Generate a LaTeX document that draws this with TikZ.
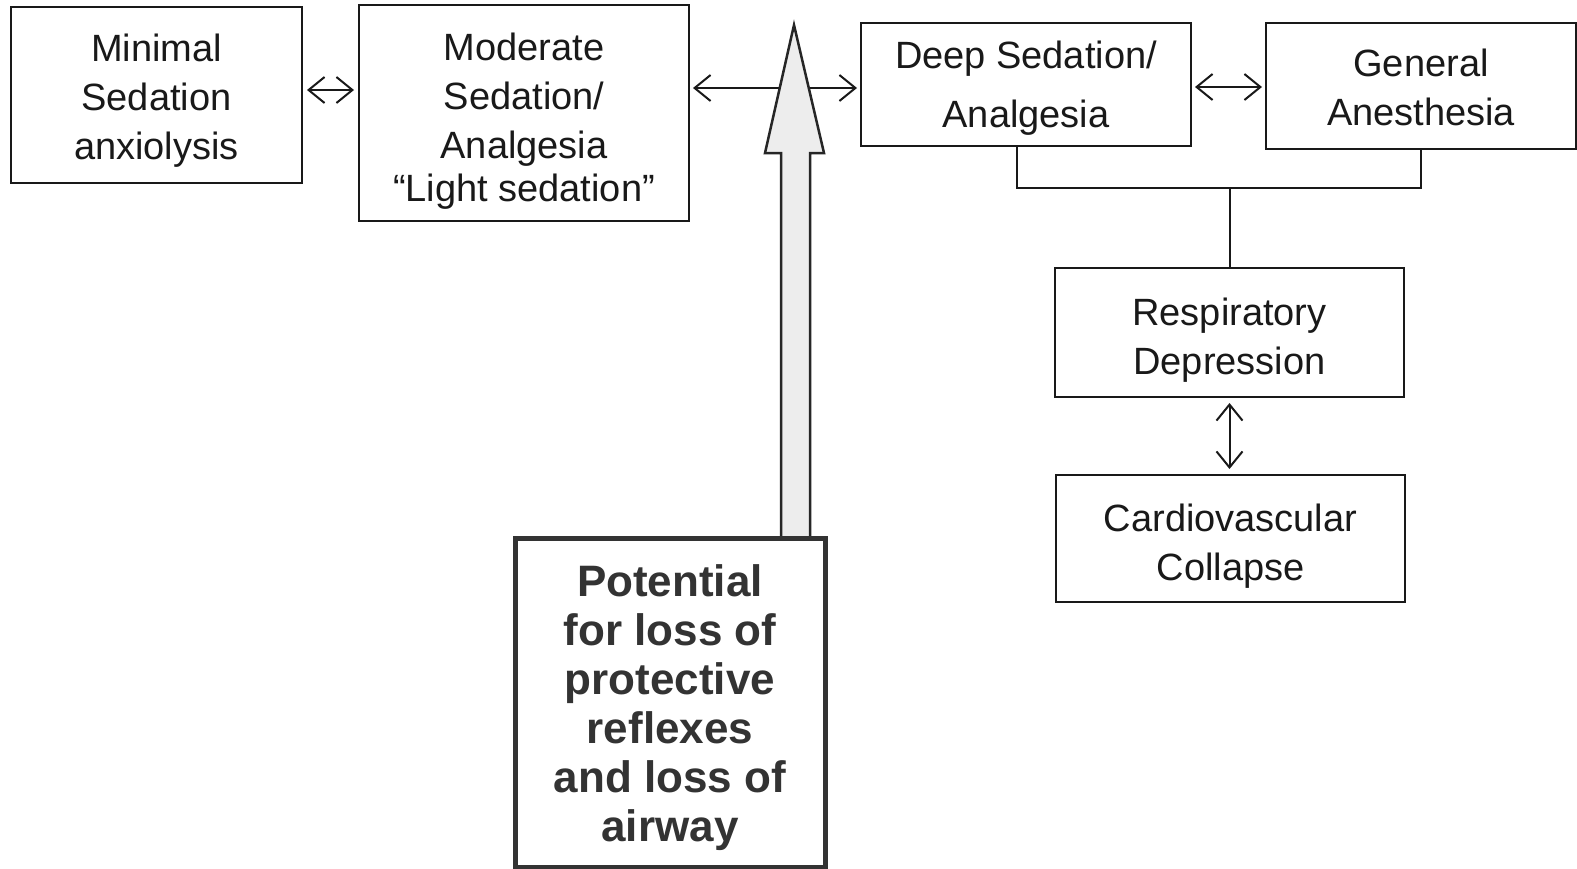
\documentclass[tikz,border=0pt]{standalone}
\usepackage{fontspec}
\setmainfont{Liberation Sans}
\usetikzlibrary{arrows.meta}
\newcommand{\dn}[1]{\rule{0pt}{#1pt}}
\begin{document}
\begin{tikzpicture}[x=1pt,y=-1pt,
  box/.style={draw=black!90,line width=2pt,fill=white,rectangle,align=center,inner sep=0pt,
    text=black!90,font=\fontsize{38}{49}\selectfont},
  potbox/.style={draw=black!80,line width=5pt,fill=white,rectangle,align=center,inner sep=0pt,
    text=black!80,font=\fontsize{44}{49}\selectfont\bfseries},
  dbl/.style={line width=2pt,draw=black!90,{Straight Barb[length=16pt,width=26pt]}-{Straight Barb[length=16pt,width=26pt]}},
  conn/.style={line width=2pt,draw=black!90}]
\useasboundingbox (0,0) rectangle (1577,868);
\node[box,minimum width=291pt,minimum height=176pt] (min) at (156.5,95) {\dn{39}Minimal\\Sedation\\anxiolysis};
\node[box,minimum width=330pt,minimum height=216pt] (mod) at (524,113) {\dn{43}Moderate\\Sedation/\\Analgesia\\[-6pt]“Light sedation”};
\node[box,minimum width=330pt,minimum height=123pt] (deep) at (1026,84.5) {\dn{34}Deep Sedation/\\[10pt]Analgesia};
\node[box,minimum width=310pt,minimum height=126pt] (gen) at (1421,86) {\dn{31}General\\Anesthesia};
\node[box,minimum width=349pt,minimum height=129pt] (resp) at (1229.5,332.5) {\dn{42}Respiratory\\Depression};
\node[box,minimum width=349pt,minimum height=127pt] (cardio) at (1230.5,538.5) {\dn{42}Cardiovascular\\Collapse};
\draw[dbl,shorten <=4pt,shorten >=4pt] ([yshift=5pt]min.east) -- ([yshift=5pt]min.east -| mod.west);
\draw[dbl,shorten <=3pt,shorten >=3pt] ([yshift=25pt]mod.east) -- ([yshift=25pt]mod.east -| deep.west);
\draw[dbl,shorten <=3pt,shorten >=3pt] ([yshift=-2.5pt]deep.east) -- ([yshift=-2.5pt]deep.east -| gen.west);
\draw[dbl,shorten <=5pt,shorten >=5pt] (resp.south) -- (resp.south |- cardio.north);
\coordinate (j) at (1229.5,188);
\draw[conn] ([xshift=-9pt]deep.south) |- (j) -| (gen.south);
\draw[conn] (j) -- (resp.north);
\draw[line width=2.5pt,draw=black!85,fill=black!7,line join=miter]
  (794,25) -- (824,153) -- (810,153) -- (810,540) -- (781,540) -- (781,153) -- (765,153) -- cycle;
\node[potbox,minimum width=310pt,minimum height=329pt] (pot) at (670,702.5) {\dn{43}Potential\\for loss of\\protective\\reflexes\\and loss of\\airway};
\end{tikzpicture}
\end{document}
